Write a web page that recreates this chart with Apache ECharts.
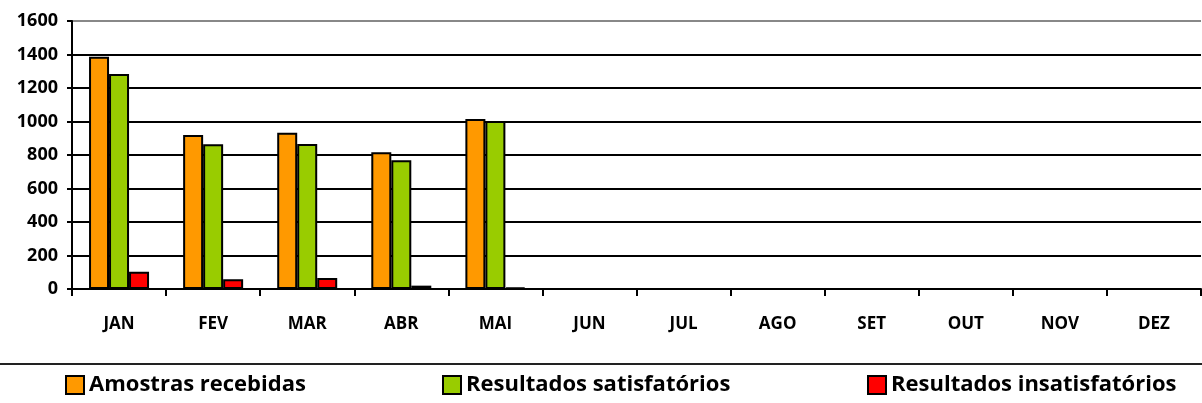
<!DOCTYPE html>
<html>
<head>
<meta charset="utf-8">
<script src="https://cdn.jsdelivr.net/npm/echarts@6/dist/echarts.min.js"></script>
<style>
  html, body { margin: 0; padding: 0; background: #fff; }
  #chart { width: 1202px; height: 403px; }
</style>
</head>
<body>
<div id="chart"></div>
<script>
  // months and the three series (JUN..DEZ not reported yet)
  const meses = ['JAN', 'FEV', 'MAR', 'ABR', 'MAI', 'JUN', 'JUL', 'AGO', 'SET', 'OUT', 'NOV', 'DEZ'];
  const amostras = [1387, 919, 933, 816, 1015, null, null, null, null, null, null, null];
  const satisfatorios = [1284, 864, 866, 768, 1003, null, null, null, null, null, null, null];
  const insatisfatorios = [103, 58, 65, 20, 8, null, null, null, null, null, null, null];
  const nomes = ['Amostras recebidas', 'Resultados satisfatórios', 'Resultados insatisfatórios'];
  const cores = ['#FF9900', '#99CC00', '#FF0000'];

  const fonte = 'Open Sans';
  const chart = echarts.init(document.getElementById('chart'));

  function serie(i, dados) {
    return {
      name: nomes[i],
      type: 'bar',
      data: dados,
      barWidth: 20,
      barGap: '0%',
      itemStyle: { color: cores[i], borderColor: '#000', borderWidth: 2 }
    };
  }

  function legenda(i, x) {
    return {
      data: [nomes[i]],
      left: x,
      top: 369,
      itemWidth: 18,
      itemHeight: 18,
      icon: 'rect',
      itemGap: 6,
      itemStyle: { borderColor: '#000', borderWidth: 2 },
      textStyle: { fontFamily: fonte, fontWeight: 'bold', fontSize: 22, color: '#000' },
      selectedMode: false
    };
  }

  const option = {
    animation: false,
    backgroundColor: '#fff',
    grid: { left: 72, right: 1, top: 21, bottom: 114 },
    legend: [legenda(0, 60), legenda(1, 437), legenda(2, 862)],
    xAxis: {
      type: 'category',
      data: meses,
      axisLine: { lineStyle: { color: '#000', width: 2 } },
      axisTick: { show: true, length: 7, lineStyle: { color: '#000', width: 2 } },
      axisLabel: { fontFamily: fonte, fontWeight: 'bold', fontSize: 17, color: '#000', margin: 27 }
    },
    yAxis: {
      type: 'value',
      min: 0,
      max: 1600,
      interval: 200,
      axisLine: { show: true, lineStyle: { color: '#000', width: 2 } },
      axisTick: { show: true, length: 5, lineStyle: { color: '#000', width: 2 } },
      axisLabel: {
        fontFamily: fonte, fontWeight: 'bold', fontSize: 18, color: '#000', margin: 14,
        formatter: function (v) { return String(v); }
      },
      splitLine: {
        lineStyle: {
          width: 2,
          color: ['#000', '#000', '#000', '#000', '#000', '#000', '#000', '#000', '#888']
        }
      }
    },
    graphic: [{
      type: 'line',
      shape: { x1: 0, y1: 364, x2: 1202, y2: 364 },
      style: { stroke: '#222', lineWidth: 2 }
    }],
    series: [serie(0, amostras), serie(1, satisfatorios), serie(2, insatisfatorios)]
  };

  chart.setOption(option);
</script>
</body>
</html>
